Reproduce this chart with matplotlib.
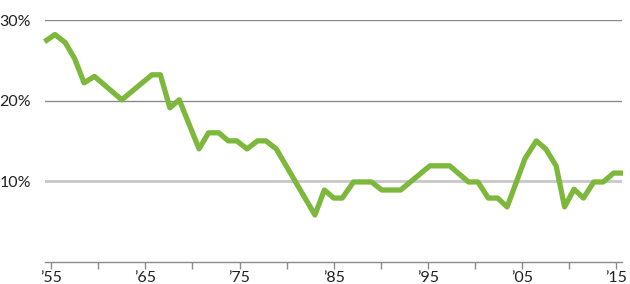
import matplotlib
matplotlib.use("Agg")
import matplotlib.pyplot as plt
from matplotlib.ticker import FixedLocator

# points (decimal year, percent)
years = [1954.3, 1955.4, 1956.5, 1957.5, 1958.5, 1959.6, 1962.5, 1965.7, 1966.6,
         1967.6, 1968.6, 1970.7, 1971.7, 1972.8, 1973.8, 1974.7, 1975.8, 1976.9,
         1977.8, 1978.9, 1983.0, 1984.0, 1985.0, 1985.9, 1987.1, 1989.0, 1990.1,
         1992.1, 1995.2, 1997.3, 1999.3, 2000.3, 2001.4, 2002.4, 2003.4, 2005.3,
         2006.5, 2007.5, 2008.6, 2009.5, 2010.5, 2011.5, 2012.6, 2013.6, 2014.7,
         2015.7]
share = [27.3, 28.2, 27.2, 25.2, 22.2, 23.0, 20.1, 23.2, 23.2,
         19.1, 20.1, 14.0, 16.0, 16.0, 15.0, 15.0, 14.0, 15.0,
         15.0, 14.0, 5.8, 8.9, 7.9, 7.9, 9.9, 9.9, 8.9,
         8.9, 11.9, 11.9, 9.9, 9.9, 7.9, 7.9, 6.8, 12.8,
         15.0, 14.0, 11.9, 6.8, 9.0, 7.9, 9.9, 9.9, 11.0,
         11.0]

x_ticks = [1955, 1965, 1975, 1985, 1995, 2005, 2015]
x_labels = ["\u201955", "\u201965", "\u201975", "\u201985", "\u201995", "\u201905", "\u201915"]
x_minor = [1960, 1970, 1980, 1990, 2000, 2010]
y_ticks = [10, 20, 30]
y_labels = ["10%", "20%", "30%"]

plt.rcParams['font.family'] = ['Lato', 'DejaVu Sans']

fig = plt.figure(figsize=(6.3, 2.84), dpi=100)
ax = fig.add_axes([0.0714, 0.0785, 0.916, 0.851])

# gridlines
ax.axhline(10, color='#c8c8c8', lw=2.0, zorder=1)
ax.axhline(20, color='#8a8a8a', lw=1.0, zorder=1)
ax.axhline(30, color='#8a8a8a', lw=1.0, zorder=1)

ax.plot(years, share, color='#7db83c', lw=3.8, solid_joinstyle='round',
        solid_capstyle='butt', zorder=3, clip_on=False)

ax.set_xlim(1954.35, 2015.6)
ax.set_ylim(0, 30)

for s in ['top', 'right', 'left']:
    ax.spines[s].set_visible(False)
ax.spines['bottom'].set_color('#8a8a8a')
ax.spines['bottom'].set_linewidth(1.0)

ax.set_xticks(x_ticks)
ax.set_xticklabels(x_labels)
ax.xaxis.set_minor_locator(FixedLocator(x_minor))
ax.tick_params(axis='x', which='both', length=5, width=1.0, color='#8a8a8a',
               labelsize=11.5, labelcolor='#222222', pad=2)

ax.set_yticks(y_ticks)
ax.set_yticklabels(y_labels)
ax.tick_params(axis='y', length=0, labelsize=11.5, labelcolor='#222222', pad=10)

fig.savefig("out.png", dpi=100)
